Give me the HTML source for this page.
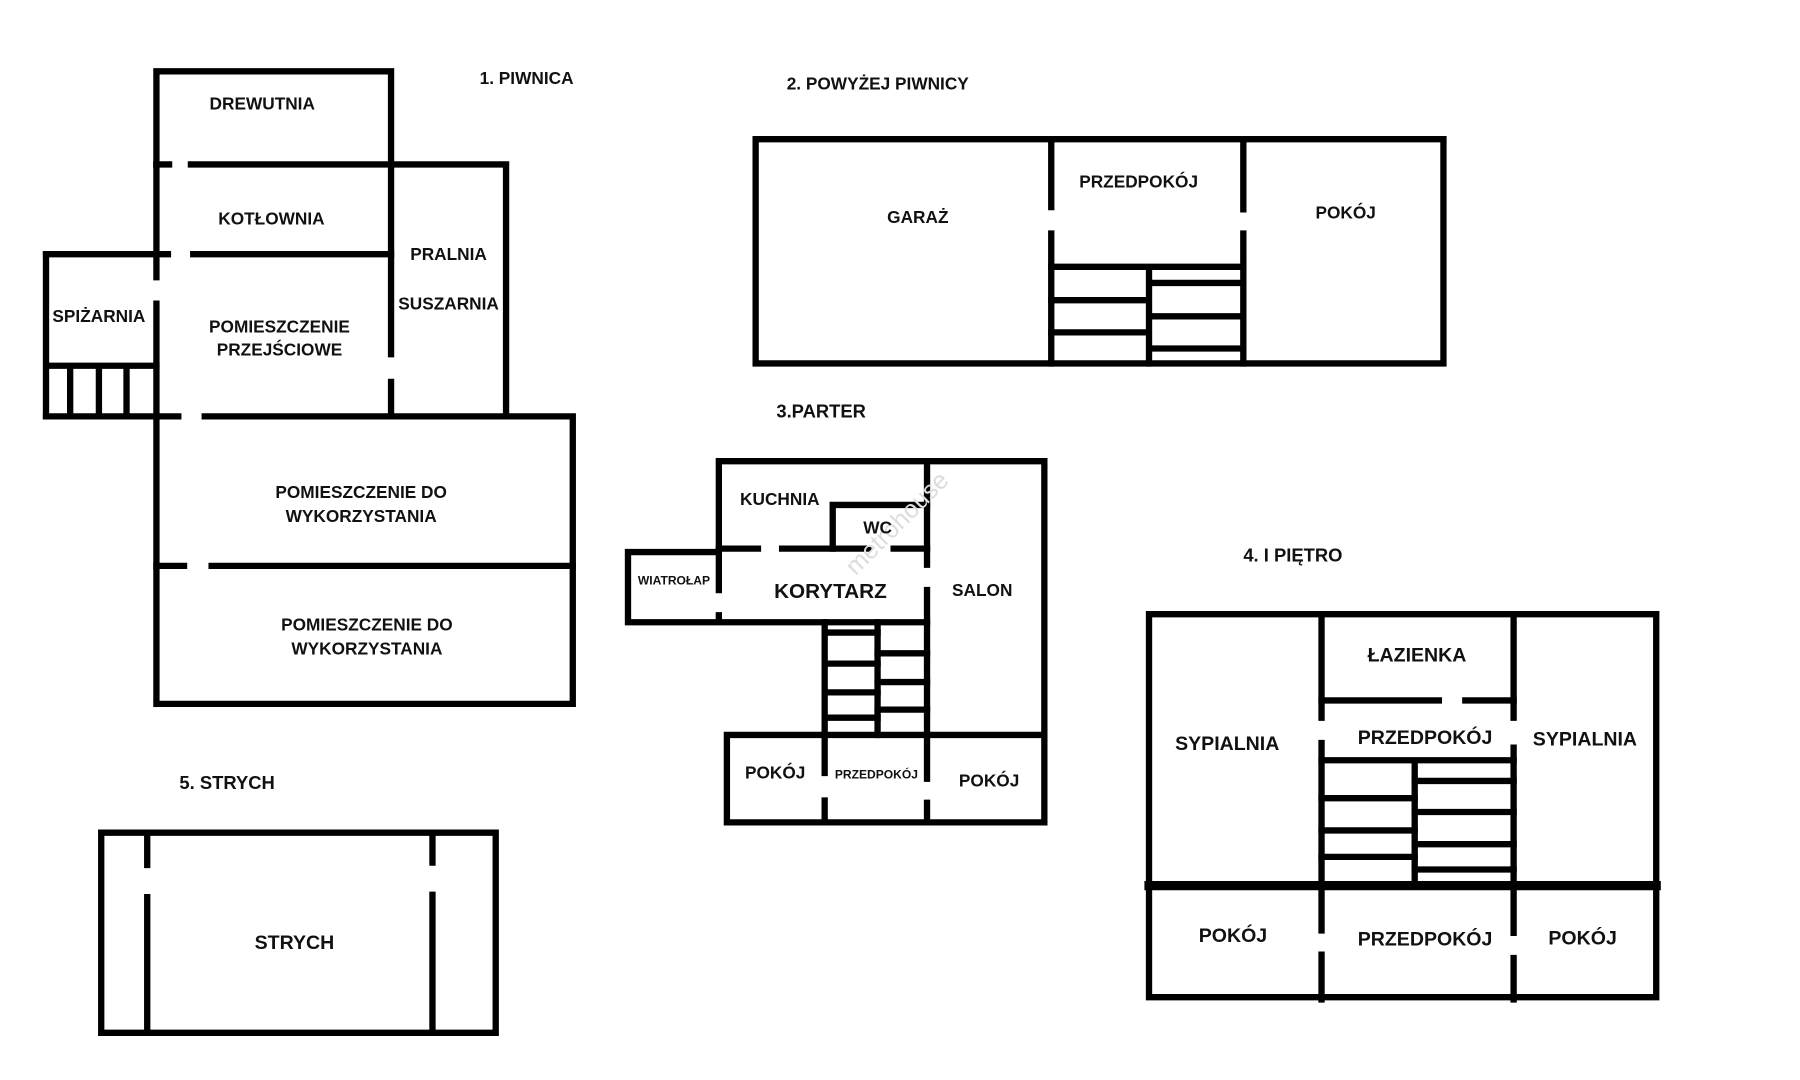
<!DOCTYPE html>
<html><head><meta charset="utf-8"><style>
html,body{margin:0;padding:0;background:#fff;width:1800px;height:1080px;overflow:hidden}
svg{display:block}
text{font-family:"Liberation Sans",sans-serif;font-weight:bold;fill:#111;text-anchor:middle}
.t{text-anchor:start}
</style></head><body>
<svg width="1800" height="1080" viewBox="0 0 1565 939" preserveAspectRatio="none" xmlns="http://www.w3.org/2000/svg">
<g stroke="#000" stroke-width="5.5" fill="none" stroke-linecap="square">
<!-- Plan 1 -->
<path d="M136 143 V62 H340 V143"/>
<path d="M136 143 H147 M166 143 H440 V362 M340 143 V308 M340 332 V362"/>
<path d="M40 221 H146 M168 221 H340"/>
<path d="M136 143 V241 M136 264 V362"/>
<path d="M40 221 V362 M40 318 H136 M61 318 V362 M86 318 V362 M110 318 V362"/>
<path d="M40 362 H155 M178 362 H498 V612 H136 V362"/>
<path d="M136 492 H160 M184 492 H498"/>
<!-- Plan 2 -->
<path d="M657 121 H1255 V316 H657 Z"/>
<path d="M914 121 V180 M914 203 V316 M1081 121 V182 M1081 203 V316"/>
<path d="M914 232 H1081 M999 232 V316 M914 261 H999 M914 289 H999 M999 246 H1081 M999 275 H1081 M999 303 H1081"/>
<!-- Plan 3 -->
<path d="M625 513 V401 H908 V715 H632 V639 H908"/>
<path d="M625 535 V541 M546 541 V480 H625 M546 541 H806"/>
<path d="M625 477 H659 M680 477 H755 M777 477 H806"/>
<path d="M724 477 V439 H806"/>
<path d="M806 401 V491 M806 513 V677 M806 698 V715"/>
<path d="M717 541 V672 M717 696 V715 M763 541 V639"/>
<path d="M717 550 H763 M717 577 H763 M717 602 H763 M717 624 H763 M763 568 H806 M763 593 H806 M763 617 H806"/>
<!-- Plan 4 -->
<path d="M999 534 H1440 V867 H999 Z"/>
<path d="M1149 534 V624 M1149 646 V770 M1316 534 V624 M1316 650 V770"/>
<path d="M1149 609 H1251 M1274 609 H1316"/>
<path d="M1149 661 H1316 M1230 661 V770"/>
<path d="M1149 694 H1230 M1149 722 H1230 M1149 745 H1230 M1230 679 H1316 M1230 706 H1316 M1230 734 H1316 M1230 756 H1316"/>
<path d="M999 770 H1440" stroke-width="8"/>
<path d="M1149 770 V809 M1149 830 V869 M1316 770 V811 M1316 833 V869"/>
<!-- Plan 5 -->
<path d="M88 724 H431 V898 H88 Z"/>
<path d="M128 724 V752 M128 780 V898 M376 724 V750 M376 778 V898"/>
</g>
<text x="780" y="462" transform="rotate(-45 780 455)" style="font-weight:normal;fill:#ddd;font-size:22px">metrohouse</text>
<g font-size="15">
<text class="t" x="417" y="73">1. PIWNICA</text>
<text x="228" y="95">DREWUTNIA</text>
<text x="236" y="195">KOTŁOWNIA</text>
<text x="390" y="226">PRALNIA</text>
<text x="390" y="269">SUSZARNIA</text>
<text x="86" y="280">SPIŻARNIA</text>
<text x="243" y="289">POMIESZCZENIE</text>
<text x="243" y="309">PRZEJŚCIOWE</text>
<text x="314" y="433">POMIESZCZENIE DO</text>
<text x="314" y="454">WYKORZYSTANIA</text>
<text x="319" y="548">POMIESZCZENIE DO</text>
<text x="319" y="569">WYKORZYSTANIA</text>
<text class="t" x="684" y="78">2. POWYŻEJ PIWNICY</text>
<text x="798" y="194">GARAŻ</text>
<text x="990" y="163">PRZEDPOKÓJ</text>
<text x="1170" y="190">POKÓJ</text>
<text class="t" x="675" y="363" font-size="16">3.PARTER</text>
<text x="678" y="439">KUCHNIA</text>
<text x="763" y="464">WC</text>
<text x="586" y="508" font-size="10.5">WIATROŁAP</text>
<text x="722" y="520" font-size="18">KORYTARZ</text>
<text x="854" y="518">SALON</text>
<text x="674" y="677">POKÓJ</text>
<text x="762" y="677" font-size="10.5">PRZEDPOKÓJ</text>
<text x="860" y="684">POKÓJ</text>
<text class="t" x="1081" y="488" font-size="16">4. I PIĘTRO</text>
<text x="1232" y="575" font-size="17">ŁAZIENKA</text>
<text x="1067" y="652" font-size="17">SYPIALNIA</text>
<text x="1239" y="647" font-size="17">PRZEDPOKÓJ</text>
<text x="1378" y="648" font-size="17">SYPIALNIA</text>
<text x="1072" y="819" font-size="17">POKÓJ</text>
<text x="1239" y="822" font-size="17">PRZEDPOKÓJ</text>
<text x="1376" y="821" font-size="17">POKÓJ</text>
<text class="t" x="156" y="686" font-size="16">5. STRYCH</text>
<text x="256" y="825" font-size="17">STRYCH</text>
</g>
</svg>
</body></html>
